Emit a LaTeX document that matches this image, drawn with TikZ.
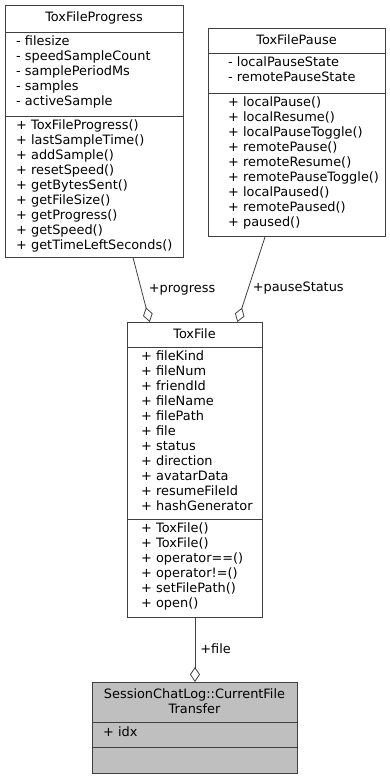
\documentclass[tikz,border=0pt]{standalone}
\usepackage{fontspec}
\setmainfont{DejaVu Sans}
\usetikzlibrary{arrows.meta}

\definecolor{boxline}{HTML}{404040}
\definecolor{boxfill}{HTML}{BFBFBF}

\tikzset{
  classbox/.style={draw=boxline, line width=0.9pt, inner sep=0pt, anchor=north west},
  member/.style={align=left, anchor=north west, inner sep=0pt,
                 font=\fontsize{12.9}{15}\selectfont},
  ctitle/.style={align=center, anchor=north, inner sep=0pt,
                 font=\fontsize{12.9}{14}\selectfont},
  assoc/.style={draw=boxline, line width=0.8pt,
                -{Diamond[open, length=15pt, width=10pt]}},
  role/.style={anchor=west, inner sep=0pt, font=\fontsize{12.9}{14}\selectfont},
}

\begin{document}
\begin{tikzpicture}[x=1pt, y=-1pt]

  \useasboundingbox (0,0) rectangle (389,779);

  % ToxFileProgress
  \node[classbox, minimum width=178pt, minimum height=252pt] (progress) at (5,5) {};
  \draw[boxline, line width=0.9pt] (5,32) -- (183,32);
  \draw[boxline, line width=0.9pt] (5,116) -- (183,116);
  \node[ctitle] (progresstitle) at (94,11) {\strut ToxFileProgress};
  \node[member] (progressattr) at (16,35) {\strut - filesize\\- speedSampleCount\\- samplePeriodMs\\- samples\\- activeSample};
  \node[member] (progressop) at (16,119) {\strut + ToxFileProgress()\\+ lastSampleTime()\\+ addSample()\\+ resetSpeed()\\+ getBytesSent()\\+ getFileSize()\\+ getProgress()\\+ getSpeed()\\+ getTimeLeftSeconds()};

  % ToxFilePause
  \node[classbox, minimum width=177pt, minimum height=208pt] (pause) at (208,28) {};
  \draw[boxline, line width=0.9pt] (208,53) -- (385,53);
  \draw[boxline, line width=0.9pt] (208,93) -- (385,93);
  \node[ctitle] (pausetitle) at (296.5,34) {\strut ToxFilePause};
  \node[member] (pauseattr) at (228,56) {\strut - localPauseState\\- remotePauseState};
  \node[member] (pauseop) at (228,96) {\strut + localPause()\\+ localResume()\\+ localPauseToggle()\\+ remotePause()\\+ remoteResume()\\+ remotePauseToggle()\\+ localPaused()\\+ remotePaused()\\+ paused()};

  % ToxFile
  \node[classbox, minimum width=135pt, minimum height=295pt] (toxfile) at (127,322) {};
  \draw[boxline, line width=0.9pt] (127,347) -- (262,347);
  \draw[boxline, line width=0.9pt] (127,519) -- (262,519);
  \node[ctitle] (toxfiletitle) at (194.5,328) {\strut ToxFile};
  \node[member] (toxfileattr) at (141,350) {\strut + fileKind\\+ fileNum\\+ friendId\\+ fileName\\+ filePath\\+ file\\+ status\\+ direction\\+ avatarData\\+ resumeFileId\\+ hashGenerator};
  \node[member] (toxfileop) at (141,522) {\strut + ToxFile()\\+ ToxFile()\\+ operator==()\\+ operator!=()\\+ setFilePath()\\+ open()};

  % SessionChatLog::CurrentFileTransfer
  \node[classbox, fill=boxfill, minimum width=205pt, minimum height=91pt] (transfer) at (92,682) {};
  \draw[boxline, line width=0.9pt] (92,722) -- (297,722);
  \draw[boxline, line width=0.9pt] (92,747) -- (297,747);
  \node[ctitle] (transfertitle) at (194.5,688) {\strut SessionChatLog::CurrentFile\\Transfer};
  \node[member] (transferattr) at (103,726) {\strut + idx};

  \draw[assoc] (progress.-73) -- node[role, pos=0.5, xshift=7pt] {+progress} (toxfile.107);
  \draw[assoc] (pause.-107) -- node[role, pos=0.6, xshift=4pt] {+pauseStatus} (toxfile.74);
  \draw[assoc] (toxfile.south) -- node[role, pos=0.48, xshift=5pt] {+file} (transfer.north);

\end{tikzpicture}
\end{document}
